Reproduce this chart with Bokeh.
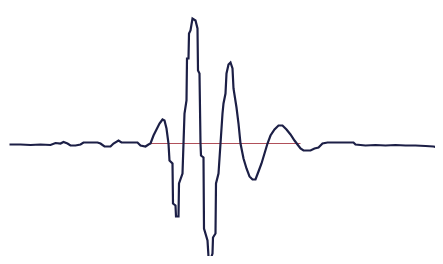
from bokeh.plotting import figure
from bokeh.models import Range1d
from bokeh.embed import file_html
from bokeh.resources import INLINE

# Waveform samples (time index, amplitude; baseline = 0)
time_idx = [9, 20, 30, 40, 50, 55, 60, 63, 67, 70, 75, 80, 83, 97, 100, 104, 110, 113,
            118, 121, 137, 140, 145, 148,
            150, 153, 156, 159, 162, 164, 166, 168, 169, 172, 172.5, 175, 175.5, 178,
            178.5, 182, 183, 184, 186, 186.5, 188, 188.5, 190, 192, 195, 197, 197.5,
            199, 200, 200.5, 203, 203.5, 207, 208, 210, 212, 212.5, 215, 215.5, 218,
            220, 222, 223, 225, 226, 228, 230, 232, 233, 236, 238, 240, 243, 246, 249,
            252, 255, 258, 261, 264, 267, 270, 274, 278, 282, 286, 290, 294, 297, 300,
            303, 310, 314, 318, 322, 327, 353, 355, 365, 375, 385, 395, 405, 415, 425,
            433, 440]
amplitude = [-1, -1, -1.5, -1, -1.5, 0.5, 0, 1.5, 0, -2, -2, -1, 1, 1, 0, -3, -3, 0,
             3, 1, 1, -2, -3, -1,
             0, 8, 14, 20, 24, 23, 15, 0, -17, -20, -60, -62, -73, -73,
             -40, -30, 0, 30, 43, 85, 85, 110, 113, 125, 123, 115, 73,
             70, 0, -12, -14, -85, -97, -113, -116, -110, -94, -90, -40, -30,
             0, 30, 40, 50, 70, 79, 81, 75, 55, 36, 20, 0, -15, -25, -33,
             -36, -36, -28, -20, -10, 0, 8, 14, 18, 18, 14, 9, 3, -1, -5,
             -7, -7, -5, -4, 0, 1, 1, -1, -2, -1.5, -2, -1.5, -2, -2, -2.5,
             -3, -5]

# Reference (zero) line extent
ref_x = [150, 300]
ref_y = [0, 0]

W, H = 435, 256
p = figure(width=W, height=H, output_backend="svg", toolbar_location=None,
           x_axis_location=None, y_axis_location=None,
           x_range=Range1d(0, W), y_range=Range1d(143 - H, 143),
           min_border=0, outline_line_color=None,
           background_fill_color="white", border_fill_color="white")
p.grid.visible = False

p.line(ref_x, ref_y, line_color="#b0505a", line_width=1.2)
p.line(time_idx, amplitude, line_color="#1c1f46", line_width=2.2, line_join="miter")

open("out.html", "w").write(file_html(p, INLINE))
